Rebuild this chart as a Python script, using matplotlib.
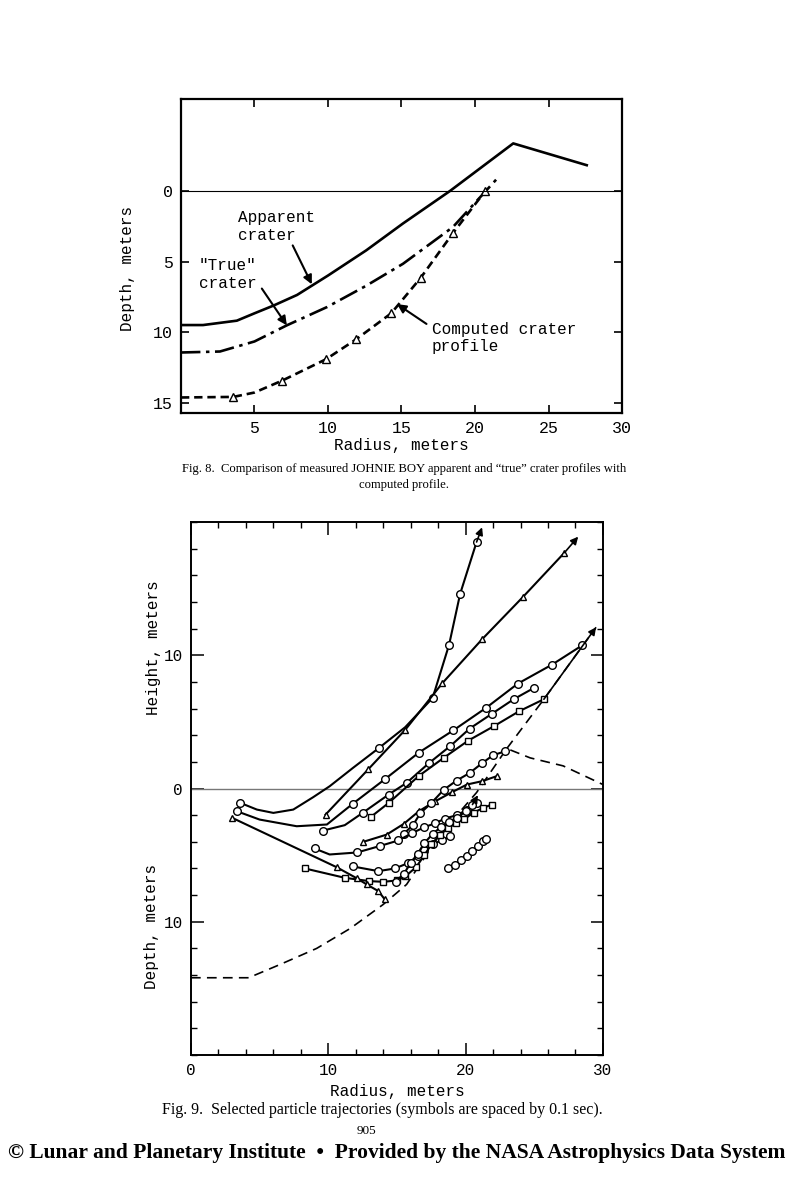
import matplotlib
matplotlib.use('Agg')
import matplotlib.pyplot as plt

# ---- Fig. 8: crater profiles (radius, depth in meters; depth positive down) ----
apparent_r = [0, 1.5, 3.8, 5.0, 6.3, 7.9, 10.0, 12.6, 15.1, 18.3, 22.6, 27.6]
apparent_d = [9.48, 9.48, 9.17, 8.65, 8.1, 7.35, 5.98, 4.2, 2.3, 0.0, -3.36, -1.82]

true_r = [0, 2.65, 5.0, 7.2, 9.95, 12.6, 15.1, 18.5, 21.5]
true_d = [11.42, 11.35, 10.64, 9.5, 8.2, 6.7, 5.15, 2.55, -0.87]

comp_r = [0, 3.56, 5.0, 6.9, 9.86, 11.9, 14.3, 16.3, 18.5, 20.7]
comp_d = [14.6, 14.56, 14.25, 13.4, 11.9, 10.5, 8.65, 6.15, 2.98, 0.0]
comp_marks = [1, 3, 4, 5, 6, 7, 8, 9]

fig8_xticks = [5, 10, 15, 20, 25, 30]
fig8_yticks = [0, 5, 10, 15]

# ---- Fig. 9: particle trajectories (radius, height in meters) ----
t1_x = [3.6, 4.8, 6.0, 7.45, 8.9, 10.1, 11.8, 13.7, 15.6, 17.6, 18.8, 19.6, 20.8]
t1_y = [-1.08, -1.58, -1.83, -1.58, -0.65, 0.17, 1.55, 3.05, 4.6, 6.8, 10.8, 14.6, 18.5]
t1_marks = [0, 7, 9, 10, 11, 12]
t1_tip = (21.2, 19.6)

t2_x = [9.8, 12.9, 15.6, 18.3, 21.2, 24.2, 27.2]
t2_y = [-1.96, 1.43, 4.4, 7.9, 11.2, 14.4, 17.7]
t2_tip = (28.2, 18.9)

t3_x = [3.33, 5.0, 7.7, 9.9, 11.8, 14.1, 16.6, 19.1, 21.5, 23.8, 26.3, 28.5]
t3_y = [-1.7, -2.33, -2.83, -2.7, -1.13, 0.68, 2.7, 4.36, 6.06, 7.87, 9.3, 10.75]
t3_marks = [0, 4, 5, 6, 7, 8, 9, 10, 11]

t4_x = [9.6, 11.2, 12.5, 14.4, 15.7, 17.3, 18.9, 20.3, 21.9, 23.5, 25.0]
t4_y = [-3.16, -2.75, -1.83, -0.45, 0.42, 1.88, 3.2, 4.5, 5.6, 6.7, 7.56]
t4_marks = [0, 2, 3, 4, 5, 6, 7, 8, 9, 10]

t5_x = [13.1, 14.4, 16.6, 18.4, 20.2, 22.1, 23.9, 25.7]
t5_y = [-2.13, -1.08, 0.95, 2.3, 3.6, 4.7, 5.8, 6.7]

t6_x = [12.55, 14.25, 15.5, 16.6, 17.8, 19.0, 20.1, 21.2, 22.25]
t6_y = [-4.0, -3.46, -2.65, -1.7, -0.95, -0.28, 0.3, 0.55, 0.92]

t7_x = [15.5, 16.2, 16.7, 17.5, 18.4, 19.35, 20.3, 21.2, 22.0, 22.9]
t7_y = [-3.4, -2.7, -1.85, -1.1, -0.1, 0.6, 1.17, 1.9, 2.5, 2.8]

t8_x = [9.0, 10.1, 12.1, 13.8, 15.1, 16.1, 17.0, 17.8, 18.5, 19.35, 20.1, 20.8]
t8_y = [-4.5, -4.95, -4.8, -4.3, -3.9, -3.35, -2.9, -2.6, -2.25, -2.0, -1.6, -1.1]
t8_marks = [0, 2, 3, 4, 5, 6, 7, 8, 9, 10, 11]

t9_x = [11.8, 13.65, 14.85, 15.8, 16.5, 17.0, 17.6, 18.3, 18.9]
t9_y = [-5.85, -6.2, -6.0, -5.6, -5.1, -4.6, -4.2, -3.85, -3.6]

t10_x = [8.3, 11.2, 13.0, 14.0, 15.0, 15.6, 16.4, 17.0, 17.5, 18.1, 18.7, 19.3, 19.9, 20.6, 21.3, 21.9]
t10_y = [-6.0, -6.7, -6.95, -7.0, -6.9, -6.6, -5.9, -5.0, -4.2, -3.5, -3.0, -2.6, -2.3, -1.8, -1.45, -1.2]

t11_x = [14.9, 15.5, 16.0, 16.5, 17.0, 17.6, 18.2, 18.8, 19.4, 20.0, 20.5]
t11_y = [-7.0, -6.4, -5.6, -4.9, -4.1, -3.4, -2.9, -2.5, -2.2, -1.7, -1.2]
t11_tip = (20.9, -0.5)

t12_x = [3.0, 10.6, 12.1, 12.8, 13.65, 14.1]
t12_y = [-2.2, -5.9, -6.75, -7.2, -7.7, -8.3]

t13_x = [18.75, 19.2, 19.7, 20.1, 20.45, 20.9, 21.3, 21.5]
t13_y = [-6.0, -5.77, -5.34, -5.04, -4.71, -4.34, -3.96, -3.76]

profile_x = [0, 4.2, 6.5, 9.15, 11.6, 14.0, 15.7, 18.1, 20.8, 23.0, 24.7, 27.1, 30.0]
profile_y = [-14.2, -14.2, -13.2, -12.0, -10.5, -8.7, -7.2, -3.5, -0.3, 3.0, 2.3, 1.7, 0.3]
ext_x = [23.0, 25.7, 29.5]
ext_y = [3.0, 6.7, 12.1]

fig9_xticks = [0, 10, 20, 30]
fig9_yticks = [-10, 0, 10]
fig9_ylabels = ['10', '0', '10']

mono = 'Liberation Mono'
serif = 'Liberation Serif'
plt.rcParams['lines.scale_dashes'] = False
plt.rcParams['font.family'] = mono

fig = plt.figure(figsize=(7.99, 12), dpi=100)

# ---------------- Fig. 8 ----------------
ax1 = fig.add_axes([0.2265, 0.6558, 0.552, 0.2617])
ax1.plot(apparent_r, apparent_d, color='k', lw=1.9)
ax1.plot(true_r, true_d, color='k', lw=1.9, dashes=(14, 4, 2.5, 4))
ax1.plot(comp_r, comp_d, color='k', lw=1.9, dashes=(6, 3.5), marker='^',
         markevery=comp_marks, ms=5.5, mfc='white', mec='k', mew=1.0)
ax1.axhline(0, color='k', lw=0.8)
ax1.set_xlim(0, 30)
ax1.set_ylim(15.7, -6.5)
ax1.set_xticks(fig8_xticks)
ax1.set_yticks(fig8_yticks)
ax1.tick_params(direction='in', length=6, width=1.2, top=True, right=True,
                labelsize=12, labelfontfamily=mono, pad=6)
for s in ax1.spines.values():
    s.set_linewidth(1.6)
ax1.set_xlabel('Radius, meters', fontsize=11.5, labelpad=1)
ax1.set_ylabel('Depth, meters', fontsize=11.5)
ax1.yaxis.set_label_coords(-0.104, 0.46)

arrow = dict(arrowstyle='-|>', color='k', lw=1.5, mutation_scale=13, shrinkA=0, shrinkB=0)
ax1.text(3.9, 2.5, 'Apparent\ncrater', fontsize=11.5, ha='left', va='center', linespacing=1.22)
ax1.annotate('', xy=(8.9, 6.6), xytext=(7.6, 3.85), arrowprops=arrow)
ax1.text(1.2, 5.9, '"True"\ncrater', fontsize=11.5, ha='left', va='center', linespacing=1.22)
ax1.annotate('', xy=(7.2, 9.5), xytext=(5.5, 6.9), arrowprops=arrow)
ax1.text(17.05, 10.4, 'Computed crater\nprofile', fontsize=11.5, ha='left', va='center', linespacing=1.22)
ax1.annotate('', xy=(14.7, 8.0), xytext=(16.7, 9.4), arrowprops=arrow)

fig.text(0.506, 0.6025, 'Fig. 8.  Comparison of measured JOHNIE BOY apparent and \u201ctrue\u201d crater profiles with\ncomputed profile.',
         family=serif, fontsize=9.1, ha='center', va='center', linespacing=1.55)

# ---------------- Fig. 9 ----------------
ax2 = fig.add_axes([0.239, 0.1208, 0.5156, 0.4442])
ax2.axhline(0, color='#777777', lw=1.0)

circ = dict(marker='o', ms=5.5, mfc='white', mec='k', mew=1.0)
tri = dict(marker='^', ms=4.8, mfc='white', mec='k', mew=1.0)
sq = dict(marker='s', ms=4.8, mfc='white', mec='k', mew=1.0)
lw = 1.5

ax2.plot(profile_x, profile_y, color='k', lw=1.2, dashes=(7, 4.5))
ax2.plot(ext_x, ext_y, color='k', lw=1.2, dashes=(7, 4.5))

ax2.plot(t1_x, t1_y, color='k', lw=lw, markevery=t1_marks, **circ)
ax2.plot(t2_x, t2_y, color='k', lw=lw, **tri)
ax2.plot(t3_x, t3_y, color='k', lw=lw, markevery=t3_marks, **circ)
ax2.plot(t4_x, t4_y, color='k', lw=lw, markevery=t4_marks, **circ)
ax2.plot(t5_x, t5_y, color='k', lw=lw, **sq)
ax2.plot(t6_x, t6_y, color='k', lw=lw, **tri)
ax2.plot(t7_x, t7_y, color='k', lw=lw, **circ)
ax2.plot(t8_x, t8_y, color='k', lw=lw, markevery=t8_marks, **circ)
ax2.plot(t9_x, t9_y, color='k', lw=lw, **circ)
ax2.plot(t10_x, t10_y, color='k', lw=lw, **sq)
ax2.plot(t11_x, t11_y, color='k', lw=lw, **circ)
ax2.plot(t12_x, t12_y, color='k', lw=lw, **tri)
ax2.plot(t13_x, t13_y, color='k', lw=1.0, **circ)

head = dict(arrowstyle='-|>', color='k', lw=1.2, mutation_scale=11, shrinkA=0, shrinkB=0)
for xs, ys, tip in [(t1_x, t1_y, t1_tip), (t2_x, t2_y, t2_tip), (t11_x, t11_y, t11_tip),
                    (ext_x[:-1], ext_y[:-1], (ext_x[-1], ext_y[-1]))]:
    ax2.annotate('', xy=tip, xytext=(xs[-1], ys[-1]), arrowprops=head)

ax2.set_xlim(0, 30)
ax2.set_ylim(-20, 20)
ax2.set_xticks(fig9_xticks)
ax2.set_xticks(range(0, 31, 2), minor=True)
ax2.set_yticks(fig9_yticks)
ax2.set_yticklabels(fig9_ylabels)
ax2.set_yticks(range(-20, 21, 2), minor=True)
ax2.tick_params(which='major', direction='in', length=9, width=1.1, top=True, right=True,
                labelsize=11.5, labelfontfamily=mono, pad=6)
ax2.tick_params(which='minor', direction='in', length=4.5, width=1.0, top=True, right=True)
for s in ax2.spines.values():
    s.set_linewidth(1.4)
ax2.set_xlabel('Radius, meters', fontsize=11.5, labelpad=4)
ax2.text(-0.092, 0.765, 'Height, meters', transform=ax2.transAxes, rotation=90,
         ha='center', va='center', fontsize=11.5)
ax2.text(-0.095, 0.242, 'Depth, meters', transform=ax2.transAxes, rotation=90,
         ha='center', va='center', fontsize=11.5)

fig.text(0.479, 0.0748, 'Fig. 9.  Selected particle trajectories (symbols are spaced by 0.1 sec).',
         family=serif, fontsize=11.5, ha='center', va='center')
fig.text(0.459, 0.0575, '905', family=serif, fontsize=9.5, ha='center', va='center')
fig.text(0.4965, 0.039, '\u00a9 Lunar and Planetary Institute  \u2022  Provided by the NASA Astrophysics Data System',
         family=serif, fontsize=15.5, fontweight='bold', ha='center', va='center')

fig.savefig('out.png', dpi=100)
